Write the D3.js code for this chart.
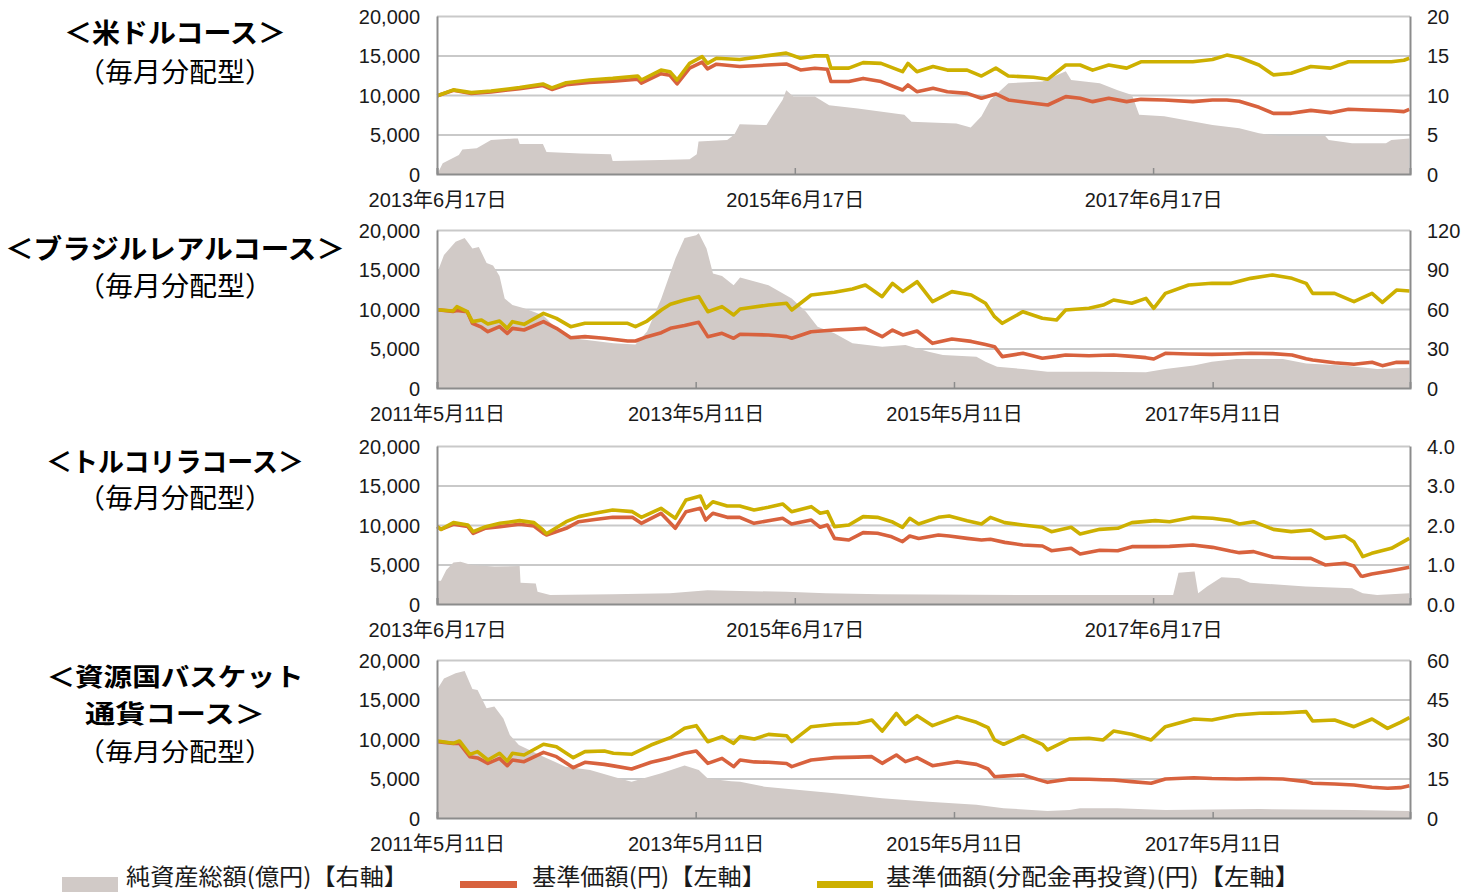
<!DOCTYPE html>
<html><head><meta charset="utf-8">
<script src="https://cdn.jsdelivr.net/npm/d3@7"></script>
<style>body{margin:0;background:#fff}svg{display:block}</style>
</head><body><svg id="c" width="1478" height="893"></svg>
<script>
// ---------- shared axis labels ----------
const leftTicks = [0, 5000, 10000, 15000, 20000];
const leftLabels = ["0", "5,000", "10,000", "15,000", "20,000"];
const legendLabels = ["純資産総額(億円)【右軸】", "基準価額(円)【左軸】", "基準価額(分配金再投資)(円)【左軸】"];

// ---------- 米ドルコース ----------
const usdTitle = ["＜米ドルコース＞", "（毎月分配型）"];
const usdTickDates = [2013.458, 2015.458, 2017.458];
const usdTickLabels = ["2013年6月17日", "2015年6月17日", "2017年6月17日"];
const usdRightTicks = [0, 5, 10, 15, 20];
const usdRightLabels = ["0", "5", "10", "15", "20"];
const usdDates = [2013.46,2013.55,2013.65,2013.76,2013.92,2014.05,2014.10,2014.18,2014.31,2014.44,2014.58,2014.60,2014.71,2014.76,2014.80,2014.87,2014.94,2014.97,2015.02,2015.15,2015.41,2015.49,2015.57,2015.64,2015.66,2015.76,2015.84,2015.94,2016.06,2016.09,2016.14,2016.23,2016.31,2016.42,2016.50,2016.58,2016.65,2016.79,2016.87,2016.97,2017.05,2017.12,2017.21,2017.31,2017.39,2017.52,2017.68,2017.79,2017.87,2017.94,2018.05,2018.13,2018.23,2018.34,2018.45,2018.55,2018.66,2018.79,2018.86,2018.89];
const usdReinv = [9900,10650,10300,10500,10950,11400,10900,11550,11900,12100,12400,11900,13150,12950,11900,14000,14850,14000,14650,14500,15300,14650,14950,14950,13400,13400,14100,14000,12950,14000,12950,13600,13150,13150,12400,13400,12400,12250,12000,13800,13800,13150,13800,13400,14200,14200,14200,14500,15050,14750,13800,12550,12750,13600,13400,14200,14200,14200,14400,14650];
const usdNav = [9900,10600,10200,10380,10800,11200,10700,11300,11600,11750,12000,11500,12700,12500,11400,13400,14150,13300,13900,13600,13930,13170,13380,13250,11700,11700,12100,11700,10630,11270,10420,10850,10420,10210,9580,10130,9370,8950,8735,9790,9580,9160,9580,9160,9450,9370,9160,9370,9370,9200,8440,7680,7680,8050,7765,8190,8100,8000,7900,8190];
const usdAssetDates = [2013.46,2013.49,2013.58,2013.60,2013.68,2013.76,2013.89,2013.91,2013.92,2014.05,2014.07,2014.26,2014.43,2014.44,2014.71,2014.87,2014.91,2014.92,2015.08,2015.12,2015.15,2015.30,2015.33,2015.39,2015.41,2015.45,2015.57,2015.65,2015.81,2016.07,2016.11,2016.36,2016.44,2016.50,2016.55,2016.65,2016.84,2016.97,2017.00,2017.16,2017.26,2017.34,2017.38,2017.52,2017.79,2017.94,2018.05,2018.16,2018.42,2018.44,2018.57,2018.76,2018.79,2018.89];
const usdAssets = [0,1.35,2.4,3.1,3.25,4.3,4.5,4.5,3.8,3.8,2.8,2.6,2.5,1.65,1.77,1.86,2.5,4.1,4.3,5.0,6.3,6.2,7.3,9.4,10.6,9.8,9.8,8.7,8.3,7.5,6.6,6.4,5.9,7.3,9.4,11.5,11.7,13.0,11.9,11.5,10.6,10.0,7.5,7.3,6.2,5.8,5.15,4.8,4.8,4.3,3.9,3.9,4.3,4.5];

// ---------- ブラジルレアルコース ----------
const brlTitle = ["＜ブラジルレアルコース＞", "（毎月分配型）"];
const brlTickDates = [2011.356, 2013.356, 2015.356, 2017.356];
const brlTickLabels = ["2011年5月11日", "2013年5月11日", "2015年5月11日", "2017年5月11日"];
const brlRightTicks = [0, 30, 60, 90, 120];
const brlRightLabels = ["0", "30", "60", "90", "120"];
const brlDates = [2011.36,2011.48,2011.51,2011.59,2011.63,2011.70,2011.75,2011.84,2011.90,2011.94,2012.03,2012.18,2012.28,2012.39,2012.50,2012.65,2012.83,2012.89,2012.98,2013.09,2013.16,2013.27,2013.38,2013.45,2013.56,2013.65,2013.70,2013.92,2014.06,2014.10,2014.25,2014.43,2014.57,2014.67,2014.80,2014.88,2014.96,2015.07,2015.19,2015.34,2015.49,2015.60,2015.67,2015.73,2015.89,2016.04,2016.15,2016.22,2016.40,2016.51,2016.59,2016.73,2016.84,2016.90,2016.99,2017.17,2017.35,2017.50,2017.65,2017.82,2017.97,2018.08,2018.13,2018.30,2018.45,2018.59,2018.67,2018.78,2018.88];
const brlReinv = [9900,9750,10300,9660,8400,8610,8100,8480,7550,8400,8060,9450,8820,7765,8190,8190,8190,7765,8480,9875,10590,11140,11560,9660,10300,9240,10000,10500,10720,9875,11770,12110,12530,13040,11560,13250,12200,13460,10930,12200,11770,10720,9030,8190,9660,8820,8610,9875,10090,10500,11140,10720,11350,10090,11980,13040,13250,13250,13880,14310,13880,13250,11980,11980,10930,11980,10850,12400,12280];
const brlNav = [9900,9700,9800,9660,8190,7700,7130,7765,6920,7550,7340,8400,7550,6370,6500,6300,5950,5950,6500,7000,7550,7900,8310,6500,6920,6290,6800,6710,6500,6290,7130,7340,7450,7550,6500,7340,6710,7215,5650,6200,5900,5500,5230,3970,4390,3760,4000,4180,4090,4150,4180,4000,3840,3670,4390,4300,4260,4300,4390,4350,4180,3700,3545,3200,3000,3250,2830,3250,3250];
const brlAssetDates = [2011.36,2011.41,2011.50,2011.57,2011.63,2011.68,2011.74,2011.79,2011.84,2011.88,2011.94,2012.03,2012.18,2012.28,2012.39,2012.72,2012.89,2012.98,2013.09,2013.20,2013.27,2013.36,2013.38,2013.44,2013.49,2013.56,2013.65,2013.70,2013.92,2014.10,2014.21,2014.30,2014.43,2014.57,2014.80,2014.98,2015.16,2015.27,2015.53,2015.60,2015.69,2015.89,2016.08,2016.44,2016.84,2016.99,2017.21,2017.35,2017.54,2017.90,2018.08,2018.37,2018.63,2018.88];
const brlAssets = [88,101,111,114,106,107,95,93,85,68,63,60.5,55,45,38,34,33,43,68,98.5,114,116,117.5,106,87,85,78,84,78,68,58,46.6,41.5,34,31.4,32.7,27.6,25,23.8,20,16.2,14.4,12.4,12.4,11.9,14.4,17,20,22,22,18.7,17,14.4,15.4];

// ---------- トルコリラコース ----------
const tryTitle = ["＜トルコリラコース＞", "（毎月分配型）"];
const tryTickDates = usdTickDates;
const tryTickLabels = usdTickLabels;
const tryRightTicks = [0, 1, 2, 3, 4];
const tryRightLabels = ["0.0", "1.0", "2.0", "3.0", "4.0"];
const tryDates = [2013.46,2013.48,2013.55,2013.63,2013.66,2013.73,2013.81,2013.92,2014.00,2014.05,2014.07,2014.18,2014.25,2014.34,2014.44,2014.55,2014.60,2014.71,2014.79,2014.85,2014.93,2014.96,2015.00,2015.08,2015.15,2015.23,2015.31,2015.39,2015.44,2015.55,2015.60,2015.64,2015.68,2015.76,2015.84,2015.92,2016.00,2016.06,2016.10,2016.15,2016.26,2016.32,2016.42,2016.50,2016.55,2016.63,2016.73,2016.84,2016.89,2017.00,2017.05,2017.16,2017.26,2017.34,2017.47,2017.55,2017.68,2017.79,2017.89,2017.94,2018.02,2018.13,2018.23,2018.34,2018.42,2018.53,2018.58,2018.62,2018.63,2018.68,2018.79,2018.89];
const tryReinv = [9790,9450,10300,10000,9160,9790,10210,10550,10300,9370,8900,10420,11060,11480,11900,11690,10970,12110,10850,13170,13670,12110,12950,12400,12400,11900,12240,12660,11690,12320,11480,11690,9790,10000,11060,10970,10420,9710,10850,10130,10970,11140,10550,10130,10970,10300,10000,9710,9160,9710,8860,9450,9580,10300,10550,10420,10970,10850,10550,10130,10420,9450,9160,9370,8310,8610,7890,6410,5990,6410,7050,8310];
const tryNav = [9790,9450,10100,9800,8950,9600,9790,10100,9870,9000,8735,9580,10420,10700,10970,10970,10210,11480,9580,11690,12110,10630,11480,10970,10970,10210,10550,10850,10130,10630,9710,10000,8310,8100,9030,8950,8500,7890,8610,8300,8735,8600,8310,8100,8190,7800,7470,7340,6750,7050,6330,6800,6750,7260,7260,7300,7470,7170,6700,6500,6630,5910,5800,5780,4940,5150,4810,3545,3500,3800,4220,4640];
const tryAssetDates = [2013.46,2013.48,2013.51,2013.55,2013.59,2013.65,2013.78,2013.92,2013.925,2014.01,2014.02,2014.09,2014.44,2014.76,2014.97,2015.15,2015.41,2015.63,2015.94,2016.73,2017.57,2017.60,2017.69,2017.71,2017.76,2017.84,2017.94,2018.00,2018.31,2018.57,2018.63,2018.71,2018.89];
const tryAssets = [0.59,0.59,0.86,1.05,1.07,0.99,0.95,0.96,0.54,0.52,0.31,0.23,0.25,0.27,0.35,0.33,0.31,0.27,0.25,0.23,0.23,0.79,0.82,0.27,0.44,0.68,0.65,0.54,0.44,0.40,0.27,0.23,0.27];

// ---------- 資源国バスケット通貨コース ----------
const bskTitle = ["＜資源国バスケット", "通貨コース＞", "（毎月分配型）"];
const bskTickDates = brlTickDates;
const bskTickLabels = brlTickLabels;
const bskRightTicks = [0, 15, 30, 45, 60];
const bskRightLabels = ["0", "15", "30", "45", "60"];
const bskDates = [2011.36,2011.48,2011.53,2011.61,2011.67,2011.75,2011.84,2011.90,2011.94,2012.03,2012.18,2012.28,2012.41,2012.50,2012.65,2012.72,2012.86,2013.01,2013.16,2013.27,2013.36,2013.45,2013.56,2013.65,2013.70,2013.81,2013.92,2014.06,2014.10,2014.25,2014.43,2014.61,2014.72,2014.80,2014.91,2014.98,2015.07,2015.19,2015.38,2015.53,2015.62,2015.67,2015.74,2015.89,2016.04,2016.08,2016.25,2016.40,2016.51,2016.59,2016.73,2016.88,2016.99,2017.21,2017.35,2017.54,2017.72,2017.90,2018.08,2018.13,2018.30,2018.45,2018.59,2018.71,2018.81,2018.88];
const bskReinv = [9750,9450,9750,8060,8400,7340,8190,7215,8190,7975,9330,9030,7640,8400,8480,8190,8060,9240,10170,11350,11690,9660,10300,9450,10300,10000,10590,10420,9660,11560,11860,12000,12400,11000,13250,11860,12950,11690,12830,12110,11440,9875,9330,10420,9330,8610,10000,10090,9875,11000,10590,9875,11560,12530,12400,13040,13250,13300,13460,12280,12400,11560,12530,11350,12110,12700];
const bskNav = [9660,9450,9450,7765,7600,6920,7550,6625,7340,7130,8310,7765,6370,7050,6790,6600,6200,7050,7640,8190,8480,6920,7550,6500,7340,7100,7050,6900,6500,7340,7640,7700,7765,6920,7975,7130,7640,6625,7130,6790,6200,5230,5300,5440,4700,4515,4940,4900,4850,4810,4600,4390,4940,5100,5000,4940,4990,4940,4600,4390,4300,4180,3900,3760,3840,4090];
const bskAssetDates = [2011.36,2011.41,2011.50,2011.57,2011.63,2011.67,2011.74,2011.80,2011.87,2011.92,2011.99,2012.18,2012.35,2012.54,2012.72,2012.86,2013.09,2013.27,2013.38,2013.45,2013.63,2013.70,2013.89,2014.43,2014.80,2015.16,2015.53,2015.74,2016.08,2016.25,2016.33,2016.62,2016.99,2017.72,2018.45,2018.88];
const bskAssets = [49,53,55,55.8,49,48.6,41.7,42.3,37.8,31.5,27.7,23.3,19.5,18.2,15.7,13.8,17,19.9,18.2,15,14,13.8,11.9,9.4,7.5,6.2,5.0,3.7,2.7,3.0,3.7,3.7,3.0,3.4,3.0,2.7];

// ---------- drawing ----------
const C = { area: "#d1cac7", nav: "#d8623e", reinv: "#cdb000", grid: "#c9c9c9", axis: "#8c8c8c", text: "#1a1a1a" };
const NUM_FONT = "'Liberation Sans', Arial, 'Noto Sans CJK JP', sans-serif";
const JP_FONT = "'Noto Sans CJK JP', 'Noto Sans', sans-serif";
const yd = t => { const y = Math.floor(t), s = new Date(y, 0, 1), e = new Date(y + 1, 0, 1); return new Date(+s + (t - y) * (e - s)); };

const svg = d3.select("#c");
const PL = 437, PR = 1410, PH = 158;

const panels = [
  { top: 16, start: 2013.458, end: 2018.894, title: usdTitle, titleY: [33, 72], titleW: [222, 196], titleBold: [true, false], titleSize: 27,
    tickDates: usdTickDates, tickLabels: usdTickLabels, rTicks: usdRightTicks, rLabels: usdRightLabels,
    dates: usdDates, nav: usdNav, reinv: usdReinv, aDates: usdAssetDates, assets: usdAssets },
  { top: 230, start: 2011.356, end: 2018.884, title: brlTitle, titleY: [249, 286], titleW: [340, 196], titleBold: [true, false], titleSize: 27,
    tickDates: brlTickDates, tickLabels: brlTickLabels, rTicks: brlRightTicks, rLabels: brlRightLabels,
    dates: brlDates, nav: brlNav, reinv: brlReinv, aDates: brlAssetDates, assets: brlAssets },
  { top: 446, start: 2013.458, end: 2018.894, title: tryTitle, titleY: [462, 498], titleW: [258, 196], titleBold: [true, false], titleSize: 27,
    tickDates: tryTickDates, tickLabels: tryTickLabels, rTicks: tryRightTicks, rLabels: tryRightLabels,
    dates: tryDates, nav: tryNav, reinv: tryReinv, aDates: tryAssetDates, assets: tryAssets },
  { top: 660, start: 2011.356, end: 2018.884, title: bskTitle, titleY: [677, 714, 752], titleW: [257, 180, 196], titleBold: [true, true, false], titleSize: 25.5,
    tickDates: bskTickDates, tickLabels: bskTickLabels, rTicks: bskRightTicks, rLabels: bskRightLabels,
    dates: bskDates, nav: bskNav, reinv: bskReinv, aDates: bskAssetDates, assets: bskAssets }
];

panels.forEach(p => {
  const g = svg.append("g");
  const bottom = p.top + PH;
  const x = d3.scaleTime().domain([yd(p.start), yd(p.end)]).range([PL, PR]).clamp(true);
  const y = d3.scaleLinear().domain([0, 20000]).range([bottom, p.top]);
  const yr = d3.scaleLinear().domain([0, p.rTicks[p.rTicks.length - 1]]).range([bottom, p.top]);

  // gridlines
  const grid = g.append("g").attr("transform", `translate(${PL},0)`)
    .call(d3.axisLeft(y).tickValues(leftTicks.slice(1)).tickSize(-(PR - PL)).tickFormat(""));
  grid.select(".domain").remove();
  grid.selectAll("line").attr("stroke", C.grid).attr("stroke-width", 2);

  // area (net assets, right axis)
  const aData = p.aDates.map((d, i) => [yd(d), p.assets[i]]);
  g.append("path").datum(aData)
    .attr("d", d3.area().x(d => x(d[0])).y0(bottom).y1(d => yr(d[1])))
    .attr("fill", C.area);

  // lines
  const line = d3.line().x(d => x(d[0])).y(d => y(d[1]));
  g.append("path").datum(p.dates.map((d, i) => [yd(d), p.nav[i]]))
    .attr("d", line).attr("fill", "none").attr("stroke", C.nav).attr("stroke-width", 3.6).attr("stroke-linejoin", "round");
  g.append("path").datum(p.dates.map((d, i) => [yd(d), p.reinv[i]]))
    .attr("d", line).attr("fill", "none").attr("stroke", C.reinv).attr("stroke-width", 3.6).attr("stroke-linejoin", "round");

  // left axis
  const la = g.append("g").attr("transform", `translate(${PL},0)`)
    .call(d3.axisLeft(y).tickValues(leftTicks).tickSize(0).tickPadding(17).tickFormat((d, i) => leftLabels[i]));
  la.select(".domain").attr("stroke", C.axis).attr("stroke-width", 2);
  la.selectAll("text").attr("font-family", NUM_FONT).attr("font-size", 20).attr("fill", C.text).attr("dy", "0.36em");

  // right axis
  const ra = g.append("g").attr("transform", `translate(${PR},0)`)
    .call(d3.axisRight(yr).tickValues(p.rTicks).tickSize(0).tickPadding(17).tickFormat((d, i) => p.rLabels[i]));
  ra.select(".domain").attr("stroke", C.axis).attr("stroke-width", 2);
  ra.selectAll("text").attr("font-family", NUM_FONT).attr("font-size", 20).attr("fill", C.text).attr("dy", "0.36em");

  // bottom axis
  const ba = g.append("g").attr("transform", `translate(0,${bottom})`)
    .call(d3.axisBottom(x).tickValues(p.tickDates.map(yd)).tickSize(-6).tickPadding(0).tickFormat((d, i) => p.tickLabels[i]));
  ba.select(".domain").attr("stroke", C.axis).attr("stroke-width", 2);
  ba.selectAll("line").attr("stroke", C.axis).attr("stroke-width", 1.5);
  ba.selectAll("text").attr("font-family", NUM_FONT).attr("font-size", 20).attr("fill", C.text)
    .attr("y", 26).attr("dy", "0.35em");

  // title: one text block, one tspan per line
  const tt = svg.append("text").attr("text-anchor", "middle").attr("font-family", JP_FONT)
    .attr("font-size", p.titleSize).attr("fill", "#000");
  p.title.forEach((t, i) => {
    tt.append("tspan").attr("x", 175).attr("y", p.titleY[i]).attr("dy", "0.36em")
      .attr("font-weight", p.titleBold[i] ? 700 : 400)
      .attr("textLength", p.titleW[i]).attr("lengthAdjust", "spacingAndGlyphs").text(t);
  });
});

// legend
const lg = svg.append("g");
lg.append("rect").attr("x", 62).attr("y", 877).attr("width", 56).attr("height", 15).attr("fill", C.area);
lg.append("line").attr("x1", 460).attr("x2", 517).attr("y1", 884.5).attr("y2", 884.5).attr("stroke", C.nav).attr("stroke-width", 7);
lg.append("line").attr("x1", 817).attr("x2", 873).attr("y1", 884.5).attr("y2", 884.5).attr("stroke", C.reinv).attr("stroke-width", 7);
const legendW = [282, 234, 414];
[126, 532, 886].forEach((lx, i) => {
  lg.append("text").attr("x", lx).attr("y", 877).attr("dy", "0.36em").attr("font-family", JP_FONT)
    .attr("font-size", 23).attr("fill", C.text)
    .attr("textLength", legendW[i]).attr("lengthAdjust", "spacingAndGlyphs").text(legendLabels[i]);
});
</script></body></html>
